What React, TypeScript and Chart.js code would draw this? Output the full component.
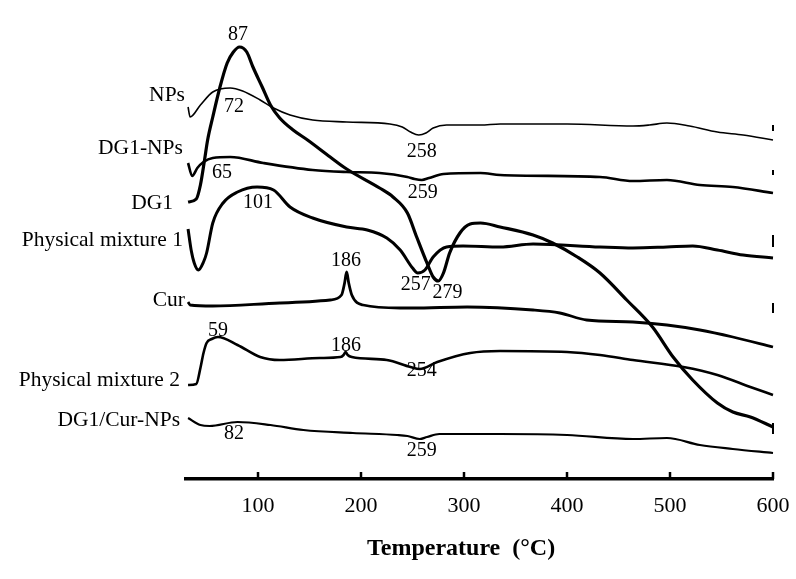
import React, { useEffect, useRef } from "react";
import { Chart, registerables } from "chart.js";

Chart.register(...registerables);

// Temperature (°C) vs. relative heat flow (arbitrary units, curves stacked)
const xTicks = [100, 200, 300, 400, 500, 600];

const NPs: [number, number][] = [[32,372],[34,362],[44,374],[56,387],[73,391],[85,388],[102,379],[115,371],[131,364],[153,359],[186,357],[228,355],[240,352],[248,347],[256,344],[263,346],[270,351],[283,354],[316,354],[335,355],[400,355],[464,353],[480,354],[497,356],[519,353],[546,347],[571,344],[600,339]];
const DG1NPs: [number, number][] = [[32,316],[36,303],[41,311],[47,317],[56,321],[73,322],[105,316],[153,309],[186,307],[218,306],[245,302],[252,300],[259,299],[266,301],[280,305],[316,306],[335,304],[432,302],[464,298],[497,299],[529,294],[561,292],[600,286]];
const DG1: [number, number][] = [[32,277],[40,280],[44,294],[48,319],[51,339],[56,362],[63,392],[70,416],[76,427],[82,432],[89,427],[95,412],[104,392],[112,374],[121,361],[134,349],[148,339],[170,322],[186,310],[218,291],[231,282],[245,266],[254,242],[264,216],[270,202],[275,198],[280,206],[286,226],[296,246],[306,255],[316,256],[335,252],[367,244],[386,236],[410,222],[432,206],[458,179],[483,152],[503,122],[522,99],[546,76],[561,67],[578,62],[600,52]];
const PM1: [number, number][] = [[32,250],[35,229],[38,216],[42,209],[47,217],[50,226],[56,256],[66,276],[80,287],[99,292],[115,289],[131,272],[153,261],[186,252],[206,249],[225,241],[238,229],[250,211],[255,206],[262,209],[270,222],[283,232],[299,233],[335,232],[367,235],[432,232],[464,231],[497,232],[522,233],[546,229],[571,224],[600,221]];
const Cur: [number, number][] = [[32,177],[34,174],[56,173],[121,176],[170,179],[181,184],[184,196],[186,207],[188,196],[191,184],[202,174],[238,171],[250,171],[303,172],[367,169],[393,166],[419,159],[464,157],[497,154],[529,149],[561,142],[600,132]];
const PM2: [number, number][] = [[32,94],[40,95],[44,111],[47,126],[50,136],[55,140],[61,142],[80,134],[102,122],[121,119],[160,121],[180,122],[183,124],[185,127],[187,124],[191,122],[225,119],[248,112],[257,110],[274,117],[306,126],[335,128],[400,127],[432,124],[464,119],[513,112],[546,104],[578,92],[600,84]];
const DG1CurNPs: [number, number][] = [[32,61],[44,54],[53,53],[80,57],[112,54],[144,49],[192,46],[235,44],[245,43],[257,40],[264,42],[276,45],[335,45],[400,44],[464,40],[497,41],[529,34],[561,30],[600,26]];

// short vertical marks at the right end (600 °C)
const endMarks: [number, number][] = [[348,354],[304,309],[232,244],[166,176],[45,56]];

const seriesNames = ["NPs", "DG1-NPs", "DG1", "Physical mixture 1", "Cur", "Physical mixture 2", "DG1/Cur-NPs"];
const seriesData = [NPs, DG1NPs, DG1, PM1, Cur, PM2, DG1CurNPs];
const nameAnchorT = [29, 27, 17.4, 27, 29, 24.2, 24.2];
const nameAnchorV = [384, 331, 276, 239, 179, 99, 59];

const peakTexts = ["87", "72", "258", "65", "259", "101", "186", "257", "279", "59", "186", "254", "82", "259"];
const peakT = [80.5, 76.6, 259, 65, 260, 100, 185.4, 253, 284, 61, 185.4, 259, 76.6, 259];
const peakV = [444, 372, 327, 306, 286, 276, 218, 194, 186, 148, 133, 108, 45, 28];

const axisTitle = "Temperature  (°C)";

const lineWidths = [1.6, 2.6, 3.2, 3.0, 2.8, 2.6, 2.2];
const SERIF = '"Liberation Serif", "Times New Roman", serif';

const annotatePlugin = {
  id: "annotate",
  afterDraw(chart: any) {
    const { ctx, scales } = chart;
    const x = scales.x;
    const y = scales.y;
    const yb = chart.chartArea.bottom;
    ctx.save();
    ctx.strokeStyle = "#000";
    ctx.lineWidth = 2.5;
    xTicks.forEach((t) => {
      const px = Math.round(x.getPixelForValue(t));
      ctx.beginPath();
      ctx.moveTo(px, yb);
      ctx.lineTo(px, yb - 7);
      ctx.stroke();
    });
    ctx.fillStyle = "#000";
    ctx.textBaseline = "middle";
    ctx.font = `21.5px ${SERIF}`;
    ctx.textAlign = "right";
    seriesNames.forEach((n, i) => {
      ctx.fillText(n, x.getPixelForValue(nameAnchorT[i]), y.getPixelForValue(nameAnchorV[i]));
    });
    ctx.font = `20px ${SERIF}`;
    ctx.textAlign = "center";
    peakTexts.forEach((t, i) => {
      ctx.fillText(t, x.getPixelForValue(peakT[i]), y.getPixelForValue(peakV[i]));
    });
    // axis title (offset left of the plot centre, as in the original figure)
    ctx.font = `bold 24px ${SERIF}`;
    ctx.textAlign = "center";
    ctx.fillText(axisTitle, x.getPixelForValue(300) - 3, x.bottom - 30);
    ctx.restore();
  },
};

export default function App() {
  const ref = useRef<HTMLCanvasElement | null>(null);
  useEffect(() => {
    document.body.style.margin = "0";
    if (!ref.current) return;
    const datasets: any[] = seriesData.map((d, i) => ({
      label: seriesNames[i],
      data: d.map(([t, v]) => ({ x: t, y: v })),
      borderColor: "#000",
      borderWidth: lineWidths[i],
      pointRadius: 0,
      fill: false,
      cubicInterpolationMode: "monotone",
      clip: false,
    }));
    endMarks.forEach(([a, b], i) => {
      datasets.push({
        label: "end" + i,
        data: [{ x: 600, y: a }, { x: 600, y: b }],
        borderColor: "#000",
        borderWidth: 2,
        pointRadius: 0,
        fill: false,
        clip: false,
      });
    });
    const chart = new Chart(ref.current, {
      type: "line",
      data: { datasets },
      plugins: [annotatePlugin],
      options: {
        animation: false,
        responsive: false,
        maintainAspectRatio: false,
        layout: { padding: { left: 186, right: 23, top: 0, bottom: 0 } },
        plugins: { legend: { display: false }, tooltip: { enabled: false } },
        scales: {
          x: {
            type: "linear",
            min: 30,
            max: 600,
            afterBuildTicks: (s: any) => {
              s.ticks = xTicks.map((v) => ({ value: v }));
            },
            afterFit: (s: any) => {
              s.height = 100;
            },
            grid: { display: false },
            border: { display: true, color: "#000", width: 3.5 },
            ticks: {
              color: "#000",
              font: { family: SERIF, size: 22 },
              padding: 6,
              maxRotation: 0,
              autoSkip: false,
            },
            title: { display: false },
          },
          y: { type: "linear", display: false, min: 0, max: 479 },
        },
      },
    });
    return () => chart.destroy();
  }, []);
  return <canvas ref={ref} width={796} height={579} style={{ display: "block" }} />;
}
